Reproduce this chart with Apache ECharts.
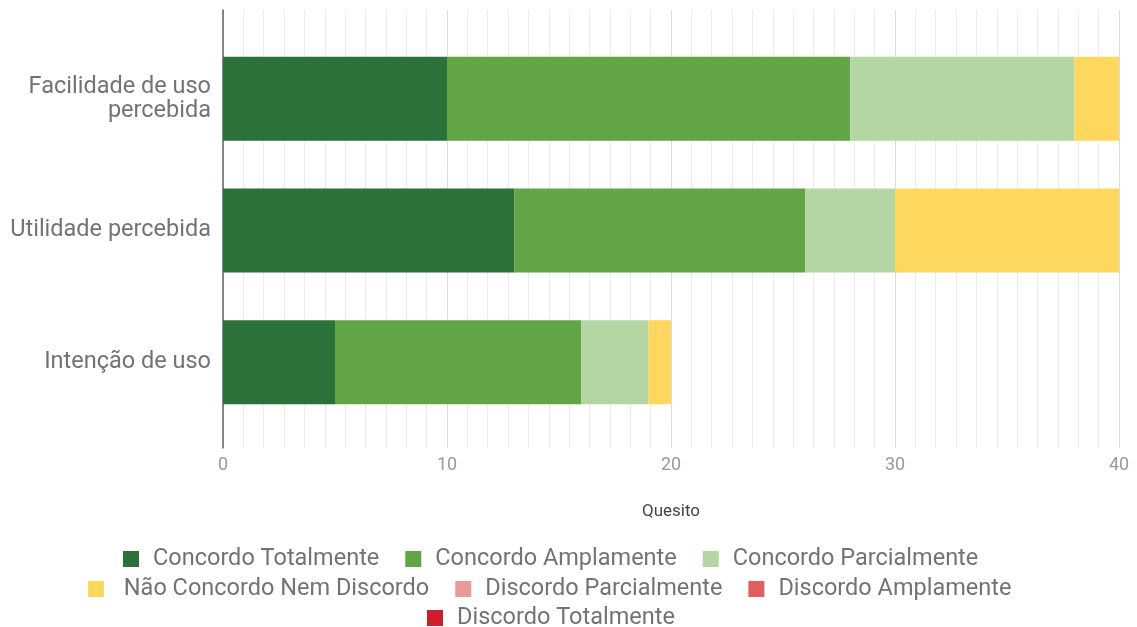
<!DOCTYPE html>
<html><head><meta charset="utf-8">
<script src="https://cdn.jsdelivr.net/npm/echarts@6/dist/echarts.min.js"></script>
<style>html,body{margin:0;padding:0;background:#fff}#c{width:1137px;height:627px}</style>
</head><body><div id="c"></div>
<script>
var categories = ['Facilidade de uso\npercebida', 'Utilidade percebida', 'Intenção de uso'];
var seriesNames = ['Concordo Totalmente', 'Concordo Amplamente', 'Concordo Parcialmente', ' Não Concordo Nem Discordo', 'Discordo Parcialmente', 'Discordo Amplamente', 'Discordo Totalmente'];
var colors = ['#2b7139', '#62a547', '#b3d6a3', '#fed75f', '#e89b99', '#e15e5f', '#cc1f27'];
var concordoTotalmente = [10, 13, 5];
var concordoAmplamente = [18, 13, 11];
var concordoParcialmente = [10, 4, 3];
var naoConcordoNemDiscordo = [2, 10, 1];
var discordoParcialmente = [0, 0, 0];
var discordoAmplamente = [0, 0, 0];
var discordoTotalmente = [0, 0, 0];
var xTicks = [0, 10, 20, 30, 40];
var values = [concordoTotalmente, concordoAmplamente, concordoParcialmente, naoConcordoNemDiscordo, discordoParcialmente, discordoAmplamente, discordoTotalmente];

var chart = echarts.init(document.getElementById('c'), null, {renderer: 'canvas'});
var font = 'Roboto, "Noto Sans", sans-serif';
var legendText = {fontSize: 23.5, color: '#737373', fontFamily: font, padding: [0, 0, 0, 9]};
function legend(items, left, top) {
  return {data: items, left: left, top: top, itemWidth: 16, itemHeight: 16, itemGap: 26,
    icon: 'rect', textStyle: legendText, selectedMode: false, padding: 0};
}
var option = {
  animation: false,
  backgroundColor: '#fff',
  color: colors,
  grid: [
    {left: 223, right: 18, top: 10, bottom: 179},
    {left: 223, right: 18, top: 33, height: 395}
  ],
  legend: [
    legend(seriesNames.slice(0, 3), 123, 547),
    legend(seriesNames.slice(3, 6), 88, 577),
    legend(seriesNames.slice(6), 427, 606)
  ],
  xAxis: [
    {gridIndex: 0, type: 'value', min: xTicks[0], max: xTicks[xTicks.length - 1], interval: 10,
     axisLine: {show: false}, axisTick: {show: false},
     axisLabel: {color: '#9a9a9a', fontSize: 18, fontFamily: font, margin: 8},
     splitLine: {show: true, lineStyle: {color: '#dcdcdc', width: 1}},
     minorTick: {show: false, splitNumber: 11},
     minorSplitLine: {show: true, lineStyle: {color: '#ebebeb', width: 1}},
     name: 'Quesito', nameLocation: 'middle', nameGap: 55,
     nameTextStyle: {color: '#444', fontSize: 17, fontFamily: font}},
    {gridIndex: 1, type: 'value', min: 0, max: 40, show: false}
  ],
  yAxis: [
    {gridIndex: 0, type: 'value', min: 0, max: 1,
     axisLine: {show: true, lineStyle: {color: '#666', width: 1.5}},
     axisTick: {show: false}, axisLabel: {show: false}, splitLine: {show: false}},
    {gridIndex: 1, type: 'category', data: categories, inverse: true,
     axisLine: {show: false}, axisTick: {show: false}, splitLine: {show: false},
     axisLabel: {color: '#737373', fontSize: 23.5, fontFamily: font, margin: 12, lineHeight: 24, align: 'right'}}
  ],
  series: seriesNames.map(function (n, i) {
    return {name: n, type: 'bar', stack: 'total', xAxisIndex: 1, yAxisIndex: 1,
      barWidth: 84, data: values[i], itemStyle: {color: colors[i]}};
  })
};
chart.setOption(option);
</script></body></html>
